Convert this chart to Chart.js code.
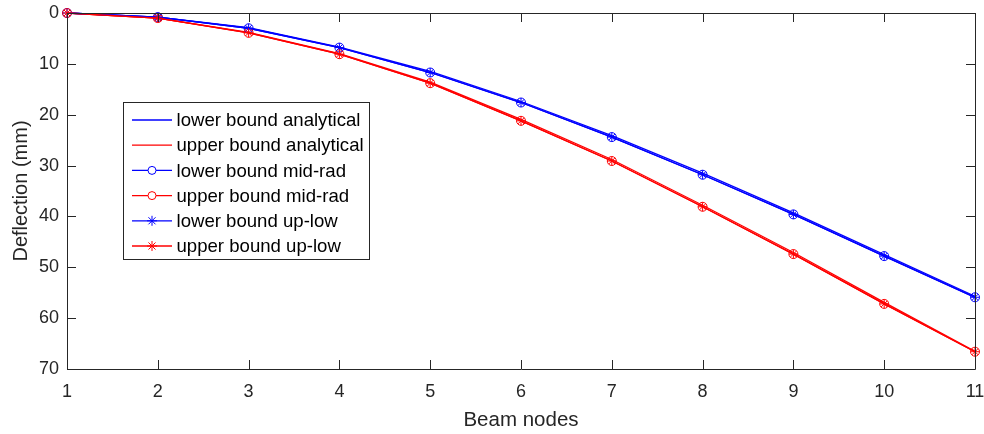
<!DOCTYPE html>
<html>
<head>
<meta charset="utf-8">
<script src="https://cdn.jsdelivr.net/npm/chart.js@4/dist/chart.umd.min.js"></script>
<style>
  html, body { margin: 0; padding: 0; background: #fff; }
  #wrap { width: 984px; height: 434px; }
</style>
</head>
<body>
<div id="wrap"><canvas id="chart"></canvas></div>
<script>
// beam nodes along the x axis
const nodes = [1, 2, 3, 4, 5, 6, 7, 8, 9, 10, 11];

// deflection (mm)
const lowerAnalytical = [0, 0.8, 2.9, 6.7, 11.5, 17.4, 24.1, 31.5, 39.3, 47.5, 55.7];
const upperAnalytical = [0, 1.0, 3.8, 8.0, 13.6, 20.9, 28.8, 37.8, 47.1, 56.9, 66.5];
const lowerMidRad = [0, 0.8, 3.0, 6.8, 11.7, 17.6, 24.4, 31.8, 39.6, 47.8, 55.9];
const upperMidRad = [0, 1.0, 3.9, 8.1, 13.8, 21.2, 29.1, 38.1, 47.4, 57.2, 66.6];
const lowerUpLow = [0, 0.8, 3.0, 6.8, 11.7, 17.6, 24.4, 31.8, 39.6, 47.8, 55.9];
const upperUpLow = [0, 1.0, 3.9, 8.1, 13.8, 21.2, 29.1, 38.1, 47.4, 57.2, 66.6];

const seriesNames = [
  "lower bound analytical",
  "upper bound analytical",
  "lower bound mid-rad",
  "upper bound mid-rad",
  "lower bound up-low",
  "upper bound up-low",
];

const BLUE = "#0000ff";
const RED = "#ff0000";
const AXIS = "#262626";
const FONT = "'Liberation Sans', Arial, Helvetica, sans-serif";

const toPoints = (vals) => nodes.map((n, i) => ({ x: n, y: vals[i] }));

const makeSet = (label, vals, color, marker, idx) => ({
  label: label,
  data: toPoints(vals),
  borderColor: color,
  backgroundColor: color,
  borderWidth: 1.3,
  pointStyle: marker || "circle",
  pointRadius: marker ? 4.5 : 0,
  pointHoverRadius: marker ? 4.5 : 0,
  pointBorderWidth: 1,
  pointBorderColor: color,
  pointBackgroundColor: "rgba(0,0,0,0)",
  tension: 0,
  fill: false,
  clip: false,
  order: 10 - idx,
  marker: marker,
});

// MATLAB style box with inward ticks on all four sides
const boxPlugin = {
  id: "boxPlugin",
  afterDatasetsDraw(chart) {
    const { ctx, chartArea: a, scales } = chart;
    const len = 9;
    ctx.save();
    ctx.strokeStyle = AXIS;
    ctx.lineWidth = 1;
    ctx.beginPath();
    scales.x.ticks.forEach((t) => {
      const px = Math.round(scales.x.getPixelForValue(t.value)) + 0.5;
      ctx.moveTo(px, a.bottom);
      ctx.lineTo(px, a.bottom - len);
      ctx.moveTo(px, a.top);
      ctx.lineTo(px, a.top + len);
    });
    scales.y.ticks.forEach((t) => {
      const py = Math.round(scales.y.getPixelForValue(t.value)) + 0.5;
      ctx.moveTo(a.left, py);
      ctx.lineTo(a.left + len, py);
      ctx.moveTo(a.right, py);
      ctx.lineTo(a.right - len, py);
    });
    ctx.stroke();
    ctx.beginPath();
    ctx.rect(Math.round(a.left) + 0.5, Math.round(a.top) + 0.5,
      Math.round(a.right - a.left), Math.round(a.bottom - a.top));
    ctx.stroke();
    ctx.restore();
  },
};

// legend box inside the axes, like the original figure
const legendPlugin = {
  id: "legendPlugin",
  afterDraw(chart) {
    const { ctx, chartArea: a } = chart;
    const x0 = a.left + 56.5;
    const y0 = a.top + 89.5;
    const w = 246;
    const h = 157;
    const rowH = 25.2;
    ctx.save();
    ctx.fillStyle = "#fff";
    ctx.fillRect(x0, y0, w, h);
    ctx.strokeStyle = AXIS;
    ctx.lineWidth = 1;
    ctx.strokeRect(x0, y0, w, h);
    ctx.font = "18.6px " + FONT;
    ctx.textBaseline = "middle";
    chart.data.datasets.forEach((ds, i) => {
      const cy = y0 + 17.5 + i * rowH;
      const lx = x0 + 8.5;
      ctx.strokeStyle = ds.borderColor;
      ctx.lineWidth = 1.3;
      ctx.beginPath();
      ctx.moveTo(lx, cy);
      ctx.lineTo(lx + 40, cy);
      ctx.stroke();
      const mx = lx + 20;
      ctx.lineWidth = 1;
      if (ds.marker === "circle") {
        ctx.beginPath();
        ctx.arc(mx, cy, 4, 0, Math.PI * 2);
        ctx.fillStyle = "#fff";
        ctx.fill();
        ctx.stroke();
      } else if (ds.marker === "star") {
        ctx.beginPath();
        for (let k = 0; k < 4; k++) {
          const ang = (k * Math.PI) / 4;
          ctx.moveTo(mx - 5 * Math.cos(ang), cy - 5 * Math.sin(ang));
          ctx.lineTo(mx + 5 * Math.cos(ang), cy + 5 * Math.sin(ang));
        }
        ctx.stroke();
      }
      ctx.fillStyle = "#000";
      ctx.fillText(ds.label, lx + 44.5, cy + 1);
    });
    ctx.restore();
  },
};

const ctx = document.getElementById("chart").getContext("2d");
new Chart(ctx, {
  type: "line",
  data: {
    datasets: [
      makeSet(seriesNames[0], lowerAnalytical, BLUE, null, 0),
      makeSet(seriesNames[1], upperAnalytical, RED, null, 1),
      makeSet(seriesNames[2], lowerMidRad, BLUE, "circle", 2),
      makeSet(seriesNames[3], upperMidRad, RED, "circle", 3),
      makeSet(seriesNames[4], lowerUpLow, BLUE, "star", 4),
      makeSet(seriesNames[5], upperUpLow, RED, "star", 5),
    ],
  },
  options: {
    responsive: true,
    maintainAspectRatio: false,
    animation: false,
    events: [],
    layout: { padding: { top: 13, right: 9, left: 0, bottom: 0 } },
    plugins: {
      legend: { display: false },
      tooltip: { enabled: false },
    },
    scales: {
      x: {
        type: "linear",
        min: 1,
        max: 11,
        afterFit: (s) => {
          s.height = 65;
          s.paddingLeft = 0;
          s.paddingRight = 0;
        },
        ticks: {
          stepSize: 1,
          padding: 12,
          color: AXIS,
          font: { family: FONT, size: 18 },
        },
        grid: { display: false, drawTicks: false },
        border: { display: false },
        title: {
          display: true,
          text: "Beam nodes",
          color: AXIS,
          font: { family: FONT, size: 20.5 },
          padding: { top: 0, bottom: 1 },
        },
      },
      y: {
        type: "linear",
        reverse: true,
        min: 0,
        max: 70,
        afterFit: (s) => {
          s.width = 67;
          s.paddingTop = 0;
          s.paddingBottom = 0;
        },
        ticks: {
          stepSize: 10,
          padding: 8,
          color: AXIS,
          font: { family: FONT, size: 18 },
        },
        grid: { display: false, drawTicks: false },
        border: { display: false },
        title: {
          display: true,
          text: "Deflection (mm)",
          color: AXIS,
          font: { family: FONT, size: 20 },
          padding: { top: 9, bottom: 0 },
        },
      },
    },
  },
  plugins: [boxPlugin, legendPlugin],
});
</script>
</body>
</html>
